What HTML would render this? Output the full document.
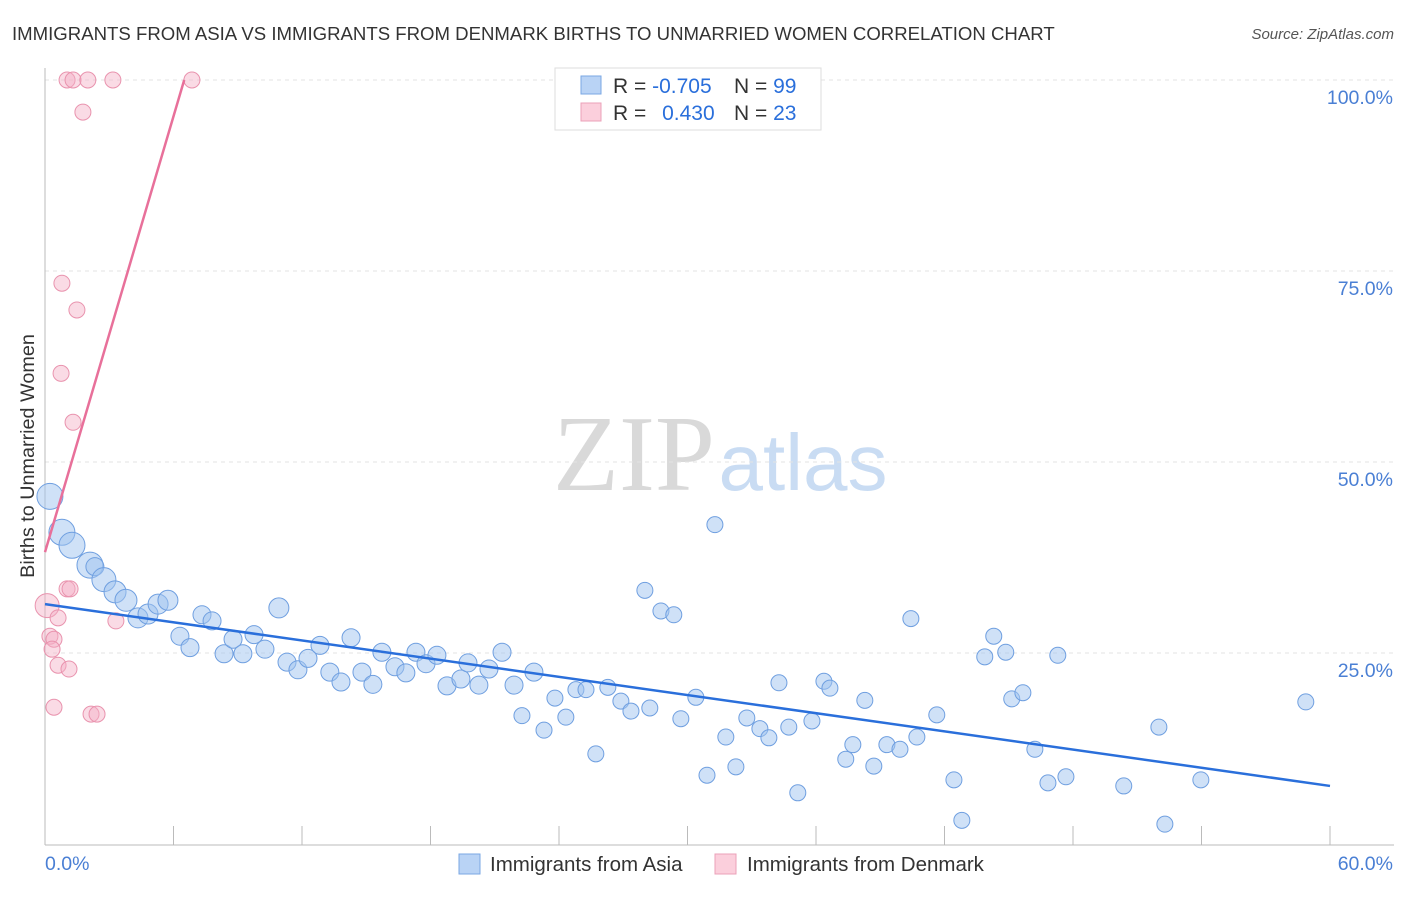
<!DOCTYPE html>
<html><head><meta charset="utf-8">
<style>
body{margin:0;background:#fff;font-family:"Liberation Sans",sans-serif;}
svg text{font-family:"Liberation Sans",sans-serif;}
</style></head>
<body>
<svg id="chart" width="1406" height="892" viewBox="0 0 1406 892">
<text x="12" y="40" font-size="18.6" fill="#333">IMMIGRANTS FROM ASIA VS IMMIGRANTS FROM DENMARK BIRTHS TO UNMARRIED WOMEN CORRELATION CHART</text>
<text x="1394" y="39" font-size="15" fill="#555" font-style="italic" text-anchor="end">Source: ZipAtlas.com</text>
<g>
<text x="634" y="490" font-size="108" fill="#d9d9d9" text-anchor="middle" style="font-family:'Liberation Serif',serif">ZIP</text>
<text x="803" y="490" font-size="80" fill="#c9dcf3" text-anchor="middle">atlas</text>
</g>
<g id="grid"></g>
<g id="axes"></g>
<g id="pts"></g>
<g id="lines"></g>
<text transform="translate(34,456) rotate(-90)" font-size="19.8" fill="#333" text-anchor="middle">Births to Unmarried Women</text>
<g>
<rect x="555" y="68" width="266" height="62" fill="#fff" stroke="#ddd"/>
<rect x="581" y="76" width="20" height="18" fill="#b9d3f5" stroke="#7aa7e3"/>
<rect x="581" y="103" width="20" height="18" fill="#fbcfdc" stroke="#eba0b8"/>
<text x="613" y="93" font-size="21" fill="#333">R = <tspan fill="#2a6fdb">-0.705</tspan></text>
<text x="734" y="93" font-size="21" fill="#333">N = <tspan fill="#2a6fdb">99</tspan></text>
<text x="613" y="120" font-size="21" fill="#333">R = <tspan fill="#2a6fdb" dx="10">0.430</tspan></text>
<text x="734" y="120" font-size="21" fill="#333">N = <tspan fill="#2a6fdb">23</tspan></text>
</g>
<g>
<rect x="459" y="854" width="21" height="20" fill="#b9d3f5" stroke="#7aa7e3"/>
<text x="490" y="871" font-size="20.5" fill="#333">Immigrants from Asia</text>
<rect x="715" y="854" width="21" height="20" fill="#fbcfdc" stroke="#eba0b8"/>
<text x="747" y="871" font-size="20.5" fill="#333">Immigrants from Denmark</text>
</g>
</svg>
<script>
const yTicks=[25,50,75,100];
const yTickLabels=["25.0%","50.0%","75.0%","100.0%"];
const xTickCount=10;
const xMin=0,xMax=60;
const xEndLabels=["0.0%","60.0%"];
const asiaX=[0.23,0.79,1.26,2.1,2.33,2.75,3.27,3.78,4.34,4.81,5.28,5.74,6.3,6.77,7.33,7.8,8.36,8.78,9.24,9.76,10.27,10.92,11.3,11.81,12.28,12.84,13.3,13.82,14.29,14.8,15.31,15.73,16.34,16.85,17.32,17.79,18.3,18.77,19.42,19.75,20.26,20.73,21.34,21.9,22.27,22.83,23.3,23.81,24.32,24.79,25.26,25.72,26.28,26.89,27.36,28.01,28.24,28.76,29.36,29.69,30.39,30.91,31.28,31.79,32.26,32.77,33.38,33.8,34.27,34.73,35.15,35.81,36.37,36.65,37.39,37.72,38.28,38.7,39.31,39.92,40.43,40.71,41.64,42.44,42.81,43.88,44.3,44.86,45.14,45.66,46.22,46.83,47.29,47.67,50.37,52.01,52.29,53.97,58.87];
const asiaY=[45.5,40.8,39.1,36.5,36.3,34.6,33.0,31.9,29.6,30.1,31.4,31.9,27.2,25.7,30.0,29.2,24.9,26.8,24.9,27.4,25.5,30.9,23.8,22.8,24.3,26.0,22.5,21.2,27.0,22.5,20.9,25.1,23.2,22.4,25.1,23.6,24.7,20.7,21.6,23.7,20.8,22.9,25.1,20.8,16.8,22.5,14.9,19.1,16.6,20.2,20.2,11.8,20.5,18.7,17.4,33.2,17.8,30.5,30.0,16.4,19.2,9.0,41.8,14.0,10.1,16.5,15.1,13.9,21.1,15.3,6.7,16.1,21.3,20.4,11.1,13.0,18.8,10.2,13.0,12.4,29.5,14.0,16.9,8.4,3.1,24.5,27.2,25.1,19.0,19.8,12.4,8.0,24.7,8.8,7.6,15.3,2.6,8.4,18.6];
const asiaSize=[13,13,13,13,9,12,11,11,10,10,10,10,9,9,9,9,9,9,9,9,9,10,9,9,9,9,9,9,9,9,9,9,9,9,9,9,9,9,9,9,9,9,9,9,8,9,8,8,8,8,8,8,8,8,8,8,8,8,8,8,8,8,8,8,8,8,8,8,8,8,8,8,8,8,8,8,8,8,8,8,8,8,8,8,8,8,8,8,8,8,8,8,8,8,8,8,8,8,8];
const denX=[1.03,1.31,2.0,3.17,6.86,1.77,0.79,1.49,0.75,1.31,0.1,0.61,1.03,1.17,0.23,0.42,0.33,0.61,1.12,0.42,3.31,2.15,2.43];
const denY=[100,100,100,100,100,95.8,73.4,69.9,61.6,55.2,31.2,29.6,33.4,33.4,27.2,26.8,25.5,23.4,22.9,17.9,29.2,17.0,17.0];
const denSize=[8,8,8,8,8,8,8,8,8,8,12,8,8,8,8,8,8,8,8,8,8,8,8];
const asiaTrendX=[0,60], asiaTrendY=[31.4,7.6];
const denTrendX=[0,6.5], denTrendY=[38.2,100];

const NS="http://www.w3.org/2000/svg";
const X0=45,X1=1330,Y0=844,Y100=80;
function sx(v){return X0+(v-xMin)/(xMax-xMin)*(X1-X0);}
function sy(v){return Y0-v/100*(Y0-Y100);}
function mk(tag,attrs,parent){const e=document.createElementNS(NS,tag);for(const k in attrs)e.setAttribute(k,attrs[k]);parent.appendChild(e);return e;}
const grid=document.getElementById('grid'),axes=document.getElementById('axes'),pts=document.getElementById('pts'),lines=document.getElementById('lines');
yTicks.forEach((t,i)=>{
 const l=mk('line',{x1:X0,x2:1394,y1:sy(t),y2:sy(t),stroke:'#e3e3e3','stroke-dasharray':'4,4'},grid);
 
 
 const tx=mk('text',{x:1393,y:sy(t)+24,'font-size':19.5,fill:'#4a7fd4','text-anchor':'end'},axes);
 tx.textContent=yTickLabels[i];
 
 
});
const ya=mk('line',{x1:X0,x2:X0,y1:68,y2:845,stroke:'#bbb'},axes);


const xa=mk('line',{x1:X0,x2:1394,y1:845,y2:845,stroke:'#bbb'},axes);


for(let i=0;i<=xTickCount;i++){
 const v=xMin+(xMax-xMin)*i/xTickCount;
 const t=mk('line',{x1:sx(v),x2:sx(v),y1:826,y2:845,stroke:'#bbb'},axes);
 
 
}
[[xMin,'start',45],[xMax,'end',1393]].forEach((a,i)=>{
 const t=mk('text',{x:a[2],y:870,'font-size':19.5,fill:'#4a7fd4','text-anchor':a[1]},axes);
 t.textContent=xEndLabels[i];
 
 
});
asiaX.forEach((x,i)=>{
 const c=mk('circle',{cx:sx(x),cy:sy(asiaY[i]),r:asiaSize[i],fill:'rgba(160,196,240,0.5)',stroke:'#6f9fe0','stroke-width':1},pts);
 
 
});
denX.forEach((x,i)=>{
 const c=mk('circle',{cx:sx(x),cy:sy(denY[i]),r:denSize[i],fill:'rgba(245,175,198,0.45)',stroke:'#e993ae','stroke-width':1},pts);
 
 
});
const la=mk('line',{x1:sx(asiaTrendX[0]),y1:sy(asiaTrendY[0]),x2:sx(asiaTrendX[1]),y2:sy(asiaTrendY[1]),stroke:'#2a6fdb','stroke-width':2.5},lines);


const ld=mk('line',{x1:sx(denTrendX[0]),y1:sy(denTrendY[0]),x2:sx(denTrendX[1]),y2:sy(denTrendY[1]),stroke:'#e8709a','stroke-width':2.5},lines);


</script>
</body></html>
